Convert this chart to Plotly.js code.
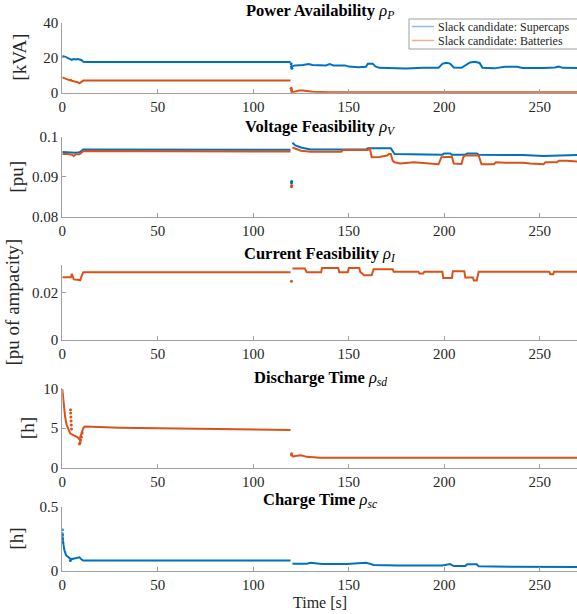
<!DOCTYPE html>
<html><head><meta charset="utf-8">
<script src="https://cdn.plot.ly/plotly-3.0.1.min.js"></script>
<style>html,body{margin:0;padding:0;background:#fff}#chart{width:577px;height:614px}</style>
</head><body><div id="chart"></div>
<script>
// ---------- data ----------
const seriesNames = ['Slack candidate: Supercaps', 'Slack candidate: Batteries'];
const xTickVals = [0, 50, 100, 150, 200, 250];
const xTickText = ['0', '50', '100', '150', '200', '250'];

// Power availability [kVA]
const powSupT = [0,1,2,3,4,5,6,7,8,9,10,11,12,119.5,null,120.5,122,126,129,131,138,140,142,148,150,155,159,160,162.5,164,166,175,180,189,197,199,201,203,205,209,211,213.5,216,218.5,220,226,232,238,241,248,252,258,260,262,270];
const powSupV = [21.0,20.8,20.3,19.8,19.2,18.8,19.2,19.0,19.3,18.9,18.7,17.6,17.5,17.5,null,15.2,15.6,15.8,16.4,15.8,15.6,16.3,15.6,15.6,14.9,14.6,14.8,16.6,16.6,15.0,14.2,14.0,13.8,14.2,14.2,16.5,17.1,16.6,14.4,14.2,15.6,17.3,17.7,17.0,14.2,13.9,14.8,14.8,14.1,13.9,14.1,14.4,15.0,14.2,14.1];
const powBatT = [0,1,2,3,4,4.5,5,6,7,8,9,10,11,119.5,null,120.5,122,124,126,128,131,140,270];
const powBatV = [8.8,8.4,7.9,7.4,7.0,7.4,6.8,6.5,6.3,6.0,5.4,6.0,6.9,6.9,null,0.3,0.8,1.2,1.3,0.9,0.5,0.3,0.3];
const powGapT = [119.8, 120.0, 120.2];
const powSupGap = [16.5, 15.0, 14.0];
const powBatGap = [2.6, 1.5, 0.4];

// Voltage feasibility [pu]
const voltSupT = [0,3,5,7,9,10,11,119.5,null,120.5,122,125,130,159,160,172,173,174,199,200,203,204,211,212,217,218,241,252,270];
const voltSupV = [0.0962,0.0961,0.0962,0.0960,0.0961,0.0965,0.0968,0.09675,null,0.0985,0.0978,0.0973,0.0968,0.0968,0.0971,0.0971,0.0962,0.09565,0.0955,0.0958,0.0958,0.0955,0.0955,0.0958,0.0958,0.0955,0.0954,0.0952,0.0954];
const voltBatT = [0,3,5,6,7,9,10,11,119.5,null,120.5,123,125,130,146,147,160,161,162,166,170,171,172,173,174,177,184,189,197,198.5,204,205,209,210,211,218,219.5,226,227,232,241,245,252,253,259,260,264,270];
const voltBatV = [0.0957,0.0957,0.0955,0.0952,0.0956,0.0956,0.0960,0.0964,0.0963,null,0.0973,0.0968,0.0965,0.09625,0.09625,0.0967,0.0967,0.09725,0.09485,0.0949,0.0953,0.0957,0.0957,0.0940,0.0936,0.0933,0.0936,0.0934,0.0931,0.0949,0.0950,0.0933,0.0932,0.0949,0.0953,0.0953,0.0931,0.0931,0.0936,0.0935,0.0935,0.0933,0.0931,0.0936,0.0936,0.0940,0.0940,0.0938];
const voltGapT = [120.0, 120.1];
const voltSupGap = [0.0885, 0.0888];
const voltBatGap = [0.0875, 0.0878];

// Current feasibility [pu of ampacity]
const currT = [0,4.5,5,5.5,6,9,9.3,10,11,119.5,null,120.5,127,128,135.5,136,144.5,145,149.5,150,155.5,156,158,162,163,173,173.5,186.5,187,189,189.5,199,199.5,204,204.5,210.5,211,215,215.5,217,218,255,255.5,257,257.5,270];
const currV = [0.0265,0.0265,0.0280,0.0262,0.0256,0.0254,0.0250,0.0268,0.0286,0.0286,null,0.0302,0.0302,0.0286,0.0286,0.0304,0.0304,0.0286,0.0286,0.0304,0.0304,0.0288,0.0274,0.0274,0.0299,0.0299,0.0288,0.0288,0.0281,0.0281,0.0288,0.0288,0.0262,0.0262,0.0291,0.0291,0.0264,0.0264,0.0252,0.0252,0.0288,0.0288,0.0278,0.0278,0.0288,0.0288];
const currGapT = [120.0];
const currGapV = [0.0248];

// Discharge time [h] (batteries)
const disT = [0,0.7,1.5,2.3,3.2,4.1,6,8,9,9.8,11,11.8,30,60,90,119.5,null,120.5,122,125,128,135,270];
const disV = [9.9,8.1,6.4,5.4,4.8,4.35,4.1,3.85,3.6,4.1,5.0,5.2,5.06,4.95,4.9,4.77,null,1.4,1.5,1.6,1.4,1.3,1.3];
const disScatT = [4.3,4.4,4.5,4.6,4.7,4.8,9.0,9.3,9.6,10.0,10.4,120.0,120.2];
const disScatV = [7.3,6.9,6.4,5.9,5.4,4.9,3.0,3.2,3.5,3.9,4.4,1.8,1.6];

// Charge time [h] (supercaps)
const chT = [0,0.2,1.1,2,2.8,4,4.6,6.3,9,10,10.9,119.5,null,120.5,128,130,136,149,153,159,161,163,176,199,203,205,211,212,217,218,234,249,257,260,270];
const chV = [0.30,0.24,0.16,0.122,0.11,0.095,0.089,0.095,0.105,0.089,0.079,0.079,null,0.055,0.055,0.062,0.052,0.052,0.055,0.062,0.055,0.045,0.040,0.040,0.052,0.036,0.036,0.050,0.050,0.034,0.031,0.028,0.030,0.027,0.028];
const chScatT = [0.0,0.05,0.1,0.3,4.2];
const chScatV = [0.32,0.28,0.25,0.22,0.08];

// ---------- styling ----------
const BLUE = '#0072BD', ORANGE = '#D95319';
const BLUE_L = 'rgba(0,114,189,0.45)', ORANGE_L = 'rgba(217,83,25,0.45)';
const FONT = 'Liberation Serif, "DejaVu Serif", serif';
const TXT = '#262626';
const AX = '#a0a0a0';

function line(x, y, color, ax) {
  return {x: x, y: y, type: 'scatter', mode: 'lines', line: {color: color, width: 2},
          connectgaps: false, showlegend: false, hoverinfo: 'skip', xaxis: 'x' + ax, yaxis: 'y' + ax};
}
function dots(x, y, color, ax) {
  return {x: x, y: y, type: 'scatter', mode: 'markers', marker: {color: color, size: 3},
          showlegend: false, hoverinfo: 'skip', xaxis: 'x' + ax, yaxis: 'y' + ax};
}

const traces = [
  line(powSupT, powSupV, BLUE, ''), line(powBatT, powBatV, ORANGE, ''),
  dots(powGapT, powSupGap, BLUE, ''), dots(powGapT, powBatGap, ORANGE, ''),
  line(voltSupT, voltSupV, BLUE, '2'), line(voltBatT, voltBatV, ORANGE, '2'),
  dots(voltGapT, voltSupGap, BLUE, '2'), dots(voltGapT, voltBatGap, ORANGE, '2'),
  line(currT, currV, ORANGE, '3'), dots(currGapT, currGapV, ORANGE, '3'),
  line(disT, disV, ORANGE, '4'), dots(disScatT, disScatV, ORANGE, '4'),
  line(chT, chV, BLUE, '5'), dots(chScatT, chScatV, BLUE, '5')
];

const W = 577, H = 614;
const xL = 62.3 / W;
// pixel top / bottom of each panel
const panels = [[22.7, 92.7], [136.7, 216.7], [265, 340], [388.3, 468], [506.7, 570.7]];
const yRanges = [[0, 40], [0.08, 0.1], [0, 0.0317], [0, 10], [0, 0.5]];
const yTickVals = [[0, 20, 40], [0.08, 0.09, 0.1], [0, 0.02], [0, 5, 10], [0, 0.5]];
const yTickText = [['0', '20', '40'], ['0.08', '0.09', '0.1'], ['0', '0.02'], ['0', '5', '10'], ['0', '0.5']];

const layout = {
  width: W, height: H, autosize: false,
  margin: {l: 0, r: 0, t: 0, b: 0, pad: 0},
  paper_bgcolor: '#fff', plot_bgcolor: 'rgba(0,0,0,0)',
  font: {family: FONT, size: 15, color: TXT},
  showlegend: false,
  annotations: [],
  shapes: [
    // legend box + samples
    {type: 'rect', xref: 'paper', yref: 'paper', x0: 409 / W, x1: 1.01, y0: 1 - 49 / H, y1: 1 - 19 / H,
     line: {color: AX, width: 1}, fillcolor: '#fff', layer: 'above'},
    {type: 'line', xref: 'paper', yref: 'paper', x0: 412 / W, x1: 434 / W, y0: 1 - 26.5 / H, y1: 1 - 26.5 / H,
     line: {color: BLUE_L, width: 1.5}, layer: 'above'},
    {type: 'line', xref: 'paper', yref: 'paper', x0: 412 / W, x1: 434 / W, y0: 1 - 40.5 / H, y1: 1 - 40.5 / H,
     line: {color: ORANGE_L, width: 1.5}, layer: 'above'}
  ]
};

const titles = [
  '<b>Power Availability</b> <i>ρ<sub>P</sub></i>',
  '<b>Voltage Feasibility</b> <i>ρ<sub>V</sub></i>',
  '<b>Current Feasibility</b> <i>ρ<sub>I</sub></i>',
  '<b>Discharge Time</b> <i>ρ<sub>sd</sub></i>',
  '<b>Charge Time</b> <i>ρ<sub>sc</sub></i>'
];
const titleY = [11, 127, 254, 378, 500];
const yLabels = ['[kVA]', '[pu]', '[pu of ampacity]', '[h]', '[h]'];
const yLabelX = [20, 17, 12, 27, 17];

panels.forEach((p, i) => {
  const k = i === 0 ? '' : String(i + 1);
  layout['xaxis' + k] = {
    domain: [xL, 1], range: [0, 269.5], anchor: 'y' + k,
    showgrid: false, zeroline: false, showline: true, linecolor: AX, linewidth: 1,
    ticks: 'inside', ticklen: 4, tickcolor: AX, tickvals: xTickVals, ticktext: xTickText,
    tickfont: {family: FONT, size: 15, color: TXT}, fixedrange: true
  };
  layout['yaxis' + k] = {
    domain: [1 - p[1] / H, 1 - p[0] / H], range: yRanges[i], anchor: 'x' + k,
    showgrid: false, zeroline: false, showline: true, linecolor: AX, linewidth: 1,
    ticks: 'inside', ticklen: 4, tickcolor: AX, tickvals: yTickVals[i], ticktext: yTickText[i],
    tickfont: {family: FONT, size: 15, color: TXT}, fixedrange: true
  };
  layout.annotations.push({text: titles[i], xref: 'paper', yref: 'paper', x: 320 / W, y: 1 - titleY[i] / H,
    xanchor: 'center', yanchor: 'middle', showarrow: false, font: {family: FONT, size: 16.5, color: '#000'}});
  layout.annotations.push({text: yLabels[i], xref: 'paper', yref: 'paper', x: yLabelX[i] / W,
    y: 1 - (p[0] + p[1]) / 2 / H, xanchor: 'center', yanchor: 'middle', textangle: -90, showarrow: false,
    font: {family: FONT, size: 19, color: TXT}});
});
layout.annotations.push({text: 'Time [s]', xref: 'paper', yref: 'paper', x: 320 / W, y: 1 - 602 / H,
  xanchor: 'center', yanchor: 'middle', showarrow: false, font: {family: FONT, size: 16, color: TXT}});
// legend texts
layout.annotations.push({text: seriesNames[0], xref: 'paper', yref: 'paper', x: 436 / W, y: 1 - 26.5 / H,
  xanchor: 'left', yanchor: 'middle', showarrow: false, font: {family: FONT, size: 12, color: TXT}});
layout.annotations.push({text: seriesNames[1], xref: 'paper', yref: 'paper', x: 436 / W, y: 1 - 40.5 / H,
  xanchor: 'left', yanchor: 'middle', showarrow: false, font: {family: FONT, size: 12, color: TXT}});

Plotly.newPlot('chart', traces, layout, {staticPlot: true, displayModeBar: false});
</script></body></html>
